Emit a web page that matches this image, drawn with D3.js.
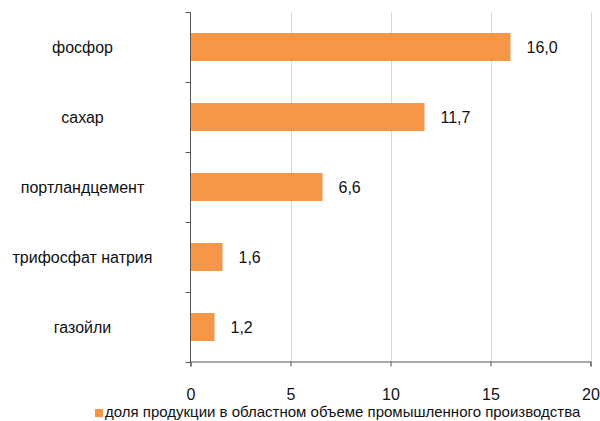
<!DOCTYPE html>
<html><head><meta charset="utf-8">
<script src="https://cdn.jsdelivr.net/npm/d3@7"></script>
<style>body{margin:0;background:#fff;} text{font-family:"Liberation Sans",Arial,sans-serif;}</style>
</head><body>
<svg id="chart" width="600" height="421"></svg>
<script>
const categories = ["фосфор","сахар","портландцемент","трифосфат натрия","газойли"];
const values = [16.0, 11.7, 6.6, 1.6, 1.2];
const valueLabels = ["16,0","11,7","6,6","1,6","1,2"];
const xTicks = [0,5,10,15,20];
const seriesName = "доля продукции в областном объеме промышленного производства";

(function(){
const svg = d3.select("#chart");
const pLeft = 190.5, pRight = 590.5, pTop = 12, pBottom = 362;
const x = d3.scaleLinear().domain([0,20]).range([pLeft,pRight]);
const y = d3.scaleBand().domain(categories).range([pTop,pBottom]).paddingInner(0.6).paddingOuter(0.3);
const yb = d3.scaleBand().domain(categories).range([pTop,pBottom]);

// gridlines
svg.append("g").selectAll("line").data(xTicks.filter(d=>d>0)).join("line")
  .attr("x1",d=>Math.round(x(d))+0.5).attr("x2",d=>Math.round(x(d))+0.5)
  .attr("y1",pTop).attr("y2",pBottom)
  .attr("stroke","#d9d9d9").attr("stroke-width",1);

// bars
svg.append("g").selectAll("rect").data(values).join("rect")
  .attr("x",x(0)).attr("y",(d,i)=>y(categories[i]))
  .attr("width",d=>x(d)-x(0)).attr("height",y.bandwidth())
  .attr("fill","#F79646");

// value labels
svg.append("g").selectAll("text").data(values).join("text")
  .attr("x",d=>x(d)+16).attr("y",(d,i)=>y(categories[i])+y.bandwidth()/2)
  .attr("dy","0.36em").attr("font-size",16).attr("fill","#111")
  .text((d,i)=>valueLabels[i]);

// x axis
const xAxis = d3.axisBottom(x).tickValues(xTicks).tickSize(5).tickPadding(22).tickFormat(d3.format("d"));
const gx = svg.append("g").attr("transform",`translate(0,${pBottom-0.5})`).call(xAxis);
gx.select(".domain").attr("stroke","#555");
gx.selectAll(".tick line").attr("stroke","#555");
gx.selectAll(".tick text").attr("font-size",16).attr("fill","#111").attr("font-family","Liberation Sans, Arial, sans-serif");

// y axis
const gy = svg.append("g").attr("transform",`translate(${pLeft},0)`);
gy.append("line").attr("x1",0).attr("x2",0).attr("y1",pTop).attr("y2",pBottom).attr("stroke","#555");
const bounds = categories.map(c=>yb(c)).concat([pBottom]);
gy.selectAll("line.t").data(bounds).join("line").attr("class","t")
  .attr("x1",-5).attr("x2",0).attr("y1",d=>Math.round(d)+0.5).attr("y2",d=>Math.round(d)+0.5).attr("stroke","#555");
svg.append("g").selectAll("text").data(categories).join("text")
  .attr("x",82.5).attr("y",d=>yb(d)+yb.bandwidth()/2).attr("dy","0.36em")
  .attr("text-anchor","middle").attr("font-size",16).attr("fill","#111").text(d=>d);

// legend
const lg = svg.append("g");
lg.append("rect").attr("x",95).attr("y",409).attr("width",8).attr("height",8).attr("fill","#F79646");
lg.append("text").attr("x",105).attr("y",417).attr("font-size",15).attr("fill","#111").text(seriesName);
})();
</script>
</body></html>
